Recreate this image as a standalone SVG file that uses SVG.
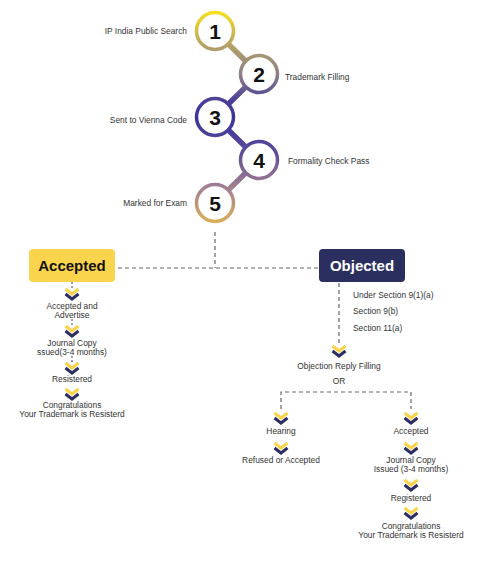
<svg xmlns="http://www.w3.org/2000/svg" width="480" height="565" viewBox="0 0 480 565">
<defs>
<linearGradient id="chain" gradientUnits="userSpaceOnUse" x1="0" y1="10" x2="0" y2="226">
<stop offset="0" stop-color="#f8e41a"/>
<stop offset="0.17" stop-color="#b3a068"/>
<stop offset="0.3" stop-color="#8c7f86"/>
<stop offset="0.42" stop-color="#4a3f98"/>
<stop offset="0.5" stop-color="#38369a"/>
<stop offset="0.66" stop-color="#5d4b98"/>
<stop offset="0.82" stop-color="#a28092"/>
<stop offset="1" stop-color="#e2b352"/>
</linearGradient>
<g id="chev">
<polyline points="-6.5,0 0,5 6.5,0" fill="none" stroke="#f9d44a" stroke-width="3"/>
<polyline points="-6.5,5 0,10 6.5,5" fill="none" stroke="#2b2f64" stroke-width="3"/>
</g>
</defs>
<style>
.t{font-family:"Liberation Sans",Arial,sans-serif;font-size:8.4px;fill:#333}
.m{text-anchor:middle}
.num{font-family:"Liberation Sans",Arial,sans-serif;font-size:21px;font-weight:bold;fill:#111;text-anchor:middle}
.ring{fill:#fff;stroke:url(#chain);stroke-width:3.5}
.dash{fill:none;stroke:#666;stroke-width:1.2;stroke-dasharray:4 3}
.dot{fill:none;stroke:#666;stroke-width:1.2;stroke-dasharray:2 2}
.box{font-family:"Liberation Sans",Arial,sans-serif;font-size:15px;font-weight:bold;text-anchor:middle}
</style>
<rect width="480" height="565" fill="#fff"/>
<g id="connectors">
<polyline points="215,31 259,74 215,117 259,160 215,203" fill="none" stroke="url(#chain)" stroke-width="5.5"/>
<line class="dash" x1="215" y1="232" x2="215" y2="268"/>
<line class="dash" x1="118" y1="268" x2="318" y2="268"/>
<line class="dot" x1="72" y1="282" x2="72" y2="290"/>
<line class="dot" x1="72" y1="319" x2="72" y2="326"/>
<line class="dot" x1="72" y1="356" x2="72" y2="363"/>
<line class="dash" x1="339" y1="283" x2="339" y2="344"/>
<polyline class="dash" points="281,409 281,392 411,392 411,409"/>
</g>
<g id="step1"><circle class="ring" cx="215" cy="31" r="18.5"/><text class="num" x="215" y="39">1</text><text class="t" x="187" y="34" text-anchor="end">IP India Public Search</text></g>
<g id="step2"><circle class="ring" cx="259" cy="74" r="18.5"/><text class="num" x="259" y="82">2</text><text class="t" x="285" y="80">Trademark Filling</text></g>
<g id="step3"><circle class="ring" cx="215" cy="117" r="18.5"/><text class="num" x="215" y="125">3</text><text class="t" x="187" y="123" text-anchor="end">Sent to Vienna Code</text></g>
<g id="step4"><circle class="ring" cx="259" cy="160" r="18.5"/><text class="num" x="259" y="168">4</text><text class="t" x="288" y="164">Formality Check Pass</text></g>
<g id="step5"><circle class="ring" cx="215" cy="203" r="18.5"/><text class="num" x="215" y="211">5</text><text class="t" x="187" y="206" text-anchor="end">Marked for Exam</text></g>
<g id="accepted"><rect x="29" y="249" width="86" height="33" rx="4" fill="#fbd44d"/><text class="box" x="72" y="271" fill="#111">Accepted</text></g>
<g id="objected"><rect x="319" y="249" width="86" height="33" rx="4" fill="#2b2f5f"/><text class="box" x="362" y="271" fill="#fff">Objected</text></g>
<g id="left-flow">
<use href="#chev" x="72" y="289"/>
<text class="t m" x="72" y="309">Accepted and</text>
<text class="t m" x="72" y="318">Advertise</text>
<use href="#chev" x="72" y="326"/>
<text class="t m" x="72" y="346">Journal Copy</text>
<text class="t m" x="72" y="355">ssued(3-4 months)</text>
<use href="#chev" x="72" y="363"/>
<text class="t m" x="72" y="382">Resistered</text>
<use href="#chev" x="72" y="389"/>
<text class="t m" x="72" y="408">Congratulations</text>
<text class="t m" x="72" y="417">Your Trademark is Resisterd</text>
</g>
<g id="sections">
<text class="t" x="353" y="298">Under Section 9(1)(a)</text>
<text class="t" x="353" y="314">Section 9(b)</text>
<text class="t" x="353" y="331">Section 11(a)</text>
</g>
<g id="reply">
<use href="#chev" x="339" y="346"/>
<text class="t m" x="339" y="369">Objection Reply Filling</text>
<text class="t m" x="339" y="384">OR</text>
</g>
<g id="hearing-flow">
<use href="#chev" x="281" y="413"/>
<text class="t m" x="281" y="434">Hearing</text>
<use href="#chev" x="281" y="443"/>
<text class="t m" x="281" y="463">Refused or Accepted</text>
</g>
<g id="accepted-flow">
<use href="#chev" x="411" y="413"/>
<text class="t m" x="411" y="434">Accepted</text>
<use href="#chev" x="411" y="443"/>
<text class="t m" x="411" y="463">Journal Copy</text>
<text class="t m" x="411" y="472">Issued (3-4 months)</text>
<use href="#chev" x="411" y="480"/>
<text class="t m" x="411" y="501">Registered</text>
<use href="#chev" x="411" y="508"/>
<text class="t m" x="411" y="529">Congratulations</text>
<text class="t m" x="411" y="538">Your Trademark is Resisterd</text>
</g>
</svg>
